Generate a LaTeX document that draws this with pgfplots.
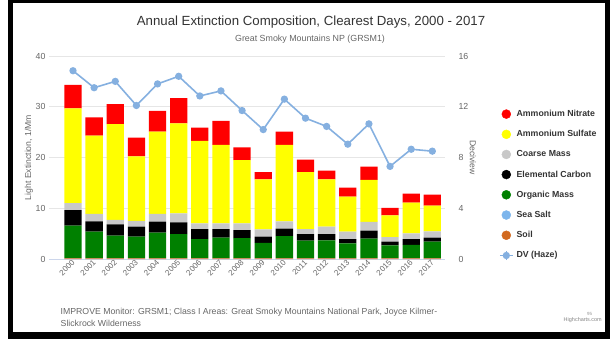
\documentclass[border=0pt]{standalone}
\usepackage{pgfplots}
\pgfplotsset{compat=1.18}
\usepackage{fontspec}
\setmainfont{Liberation Sans}
\definecolor{txt}{HTML}{666666}
\definecolor{ttl}{HTML}{333333}
\definecolor{gridc}{HTML}{E6E6E6}
\definecolor{axisc}{HTML}{CCD6EB}
\definecolor{cnit}{HTML}{FF0000}
\definecolor{csul}{HTML}{FFFF00}
\definecolor{ccoa}{HTML}{C8C8C8}
\definecolor{cec}{HTML}{000000}
\definecolor{com}{HTML}{008000}
\definecolor{csea}{HTML}{7CB5EC}
\definecolor{csoil}{HTML}{D2691E}
\definecolor{cdv}{HTML}{85B0E0}
\begin{document}
\begin{tikzpicture}[x=1bp,y=1bp]
\useasboundingbox (0,0) rectangle (610,345);
% frame
\fill[black] (8,342) rectangle (610,345);
\fill[black] (8,6) rectangle (13,345);
\fill[black] (605,6) rectangle (610,345);
\fill[black] (8,6) rectangle (610,13);
% titles
\node[anchor=base, inner sep=0, font=\fontsize{13.3}{16}\selectfont, text=ttl] at (311,320) {Annual Extinction Composition, Clearest Days, 2000 - 2017};
\node[anchor=base, inner sep=0, font=\fontsize{8.9}{11}\selectfont, text=txt] at (310,303.8) {Great Smoky Mountains NP (GRSM1)};
% footnote
\node[anchor=base west, inner sep=0, font=\fontsize{8.75}{11}\selectfont, text=txt] at (60.5,31) {IMPROVE Monitor: GRSM1; Class I Areas: Great Smoky Mountains National Park, Joyce Kilmer-};
\node[anchor=base west, inner sep=0, font=\fontsize{8.75}{11}\selectfont, text=txt] at (60.5,19) {Slickrock Wilderness};
\node[anchor=base west, inner sep=0, font=\fontsize{4.5}{5}\selectfont, text=txt!70] at (587,30) {95};
\node[anchor=base east, inner sep=0, font=\fontsize{5.5}{6}\selectfont, text=txt!80] at (602,24) {Highcharts.com};

\begin{axis}[
  at={(49bp,86bp)}, anchor=south west, scale only axis,
  width=396bp, height=203bp,
  xmin=-1.135, xmax=17.6, ymin=0, ymax=40,
  ybar stacked, bar width=17.3bp,
  axis x line*=bottom, axis y line*=left,
  x axis line style={draw=axisc, line width=1bp, -},
  y axis line style={draw=none},
  xtick={0,...,17},
  xticklabels={2000,2001,2002,2003,2004,2005,2006,2007,2008,2009,2010,2011,2012,2013,2014,2015,2016,2017},
  xtick style={draw=none}, ytick style={draw=none},
  ytick={0,10,20,30,40},
  ymajorgrids, grid style={draw=gridc, line width=0.8bp},
  xticklabel style={rotate=45, anchor=east, inner sep=1.5bp, yshift=-2bp, font=\fontsize{8}{9}\selectfont, text=txt},
  yticklabel style={font=\fontsize{8.8}{10}\selectfont, text=txt},
  ylabel={Light Extinction, 1/Mm},
  ylabel style={at={(axis description cs:-0.0505,0.5)}, anchor=center, font=\fontsize{8.7}{10}\selectfont, text=txt},
  /pgf/number format/assume math mode=true,
]
% Soil
\addplot[fill=csoil, draw=none] coordinates {(0,0.1)(1,0.1)(2,0.1)(3,0.1)(4,0.1)(5,0.1)(6,0.1)(7,0.1)(8,0.1)(9,0.1)(10,0.1)(11,0.1)(12,0.1)(13,0.1)(14,0.1)(15,0.1)(16,0.1)(17,0.1)};
% Sea Salt
\addplot[fill=csea, draw=none] coordinates {(0,0.05)(1,0.05)(2,0.05)(3,0.05)(4,0.05)(5,0.05)(6,0.05)(7,0.05)(8,0.05)(9,0.05)(10,0.05)(11,0.05)(12,0.05)(13,0.05)(14,0.05)(15,0.05)(16,0.05)(17,0.05)};
% Organic Mass
\addplot[fill=com, draw=none] coordinates {(0,6.45)(1,5.25)(2,4.45)(3,4.25)(4,5.05)(5,4.75)(6,3.75)(7,4.05)(8,3.95)(9,3.05)(10,4.35)(11,3.45)(12,3.5)(13,2.95)(14,3.85)(15,2.55)(16,2.65)(17,3.25)};
% Elemental Carbon
\addplot[fill=cec, draw=none] coordinates {(0,3.05)(1,2.0)(2,2.2)(3,2.0)(4,2.15)(5,2.3)(6,2.0)(7,1.7)(8,1.6)(9,1.2)(10,1.5)(11,1.3)(12,1.25)(13,0.8)(14,1.6)(15,0.7)(16,1.1)(17,0.8)};
% Coarse Mass
\addplot[fill=ccoa, draw=none] coordinates {(0,1.35)(1,1.47)(2,0.9)(3,1.1)(4,1.55)(5,1.8)(6,1.1)(7,1.1)(8,1.3)(9,1.45)(10,1.4)(11,1.0)(12,1.5)(13,1.5)(14,1.7)(15,0.9)(16,1.15)(17,1.25)};
% Ammonium Sulfate
\addplot[fill=csul, draw=none] coordinates {(0,18.7)(1,15.43)(2,18.9)(3,12.7)(4,16.2)(5,17.7)(6,16.3)(7,15.5)(8,12.5)(9,9.85)(10,15.1)(11,11.2)(12,9.3)(13,6.9)(14,8.3)(15,4.3)(16,6.05)(17,5.05)};
% Ammonium Nitrate
\addplot[fill=cnit, draw=none] coordinates {(0,4.6)(1,3.6)(2,3.9)(3,3.7)(4,4.1)(5,5.0)(6,2.6)(7,4.7)(8,2.5)(9,1.4)(10,2.6)(11,2.5)(12,1.7)(13,1.75)(14,2.6)(15,1.45)(16,1.8)(17,2.2)};
\end{axis}

\begin{axis}[
  at={(49bp,86bp)}, anchor=south west, scale only axis,
  width=396bp, height=203bp,
  xmin=-1.135, xmax=17.6, ymin=0, ymax=16,
  axis x line=none, axis y line*=right,
  y axis line style={draw=none},
  ytick={0,4,8,12,16}, ytick style={draw=none},
  yticklabel style={font=\fontsize{8.8}{10}\selectfont, text=txt, xshift=10bp},
  ylabel={Deciview},
  ylabel style={at={(axis description cs:1.0707,0.5)}, anchor=center, rotate=180, font=\fontsize{8.7}{10}\selectfont, text=txt},
  /pgf/number format/assume math mode=true,
  clip=false,
  legend cell align=left,
  legend style={draw=none, fill=none, inner sep=0pt, outer sep=0pt,
    at={(axis description cs:1.1364,0.7429)}, anchor=north west,
    row sep=8.4bp, column sep=1bp,
    font=\bfseries\fontsize{8.8}{10}\selectfont, text=ttl},
]
\addlegendimage{legend image code/.code={\fill[cnit] (0bp,0bp) circle (4.5bp);}}
\addlegendentry{Ammonium Nitrate}
\addlegendimage{legend image code/.code={\fill[csul] (0bp,0bp) circle (4.5bp);}}
\addlegendentry{Ammonium Sulfate}
\addlegendimage{legend image code/.code={\fill[ccoa] (0bp,0bp) circle (4.5bp);}}
\addlegendentry{Coarse Mass}
\addlegendimage{legend image code/.code={\fill[cec] (0bp,0bp) circle (4.5bp);}}
\addlegendentry{Elemental Carbon}
\addlegendimage{legend image code/.code={\fill[com] (0bp,0bp) circle (4.5bp);}}
\addlegendentry{Organic Mass}
\addlegendimage{legend image code/.code={\fill[csea] (0bp,0bp) circle (4.5bp);}}
\addlegendentry{Sea Salt}
\addlegendimage{legend image code/.code={\fill[csoil] (0bp,0bp) circle (4.5bp);}}
\addlegendentry{Soil}
\addplot[color=cdv, line width=1.6bp, mark=*, mark size=2.8bp, mark options={fill=cdv, draw=cdv},
  legend image code/.code={\path (0bp,-4.5bp) -- (0bp,4.5bp); \draw[cdv, line width=1.6bp] (-6.5bp,0bp) -- (6.5bp,0bp); \fill[cdv] (0bp,0bp) circle (2.8bp);}]
  coordinates {(0,14.84)(1,13.5)(2,14.0)(3,12.1)(4,13.8)(5,14.4)(6,12.85)(7,13.25)(8,11.7)(9,10.2)(10,12.6)(11,11.1)(12,10.45)(13,9.05)(14,10.65)(15,7.3)(16,8.65)(17,8.5)};
\addlegendentry{DV (Haze)}
\end{axis}
\end{tikzpicture}
\end{document}
